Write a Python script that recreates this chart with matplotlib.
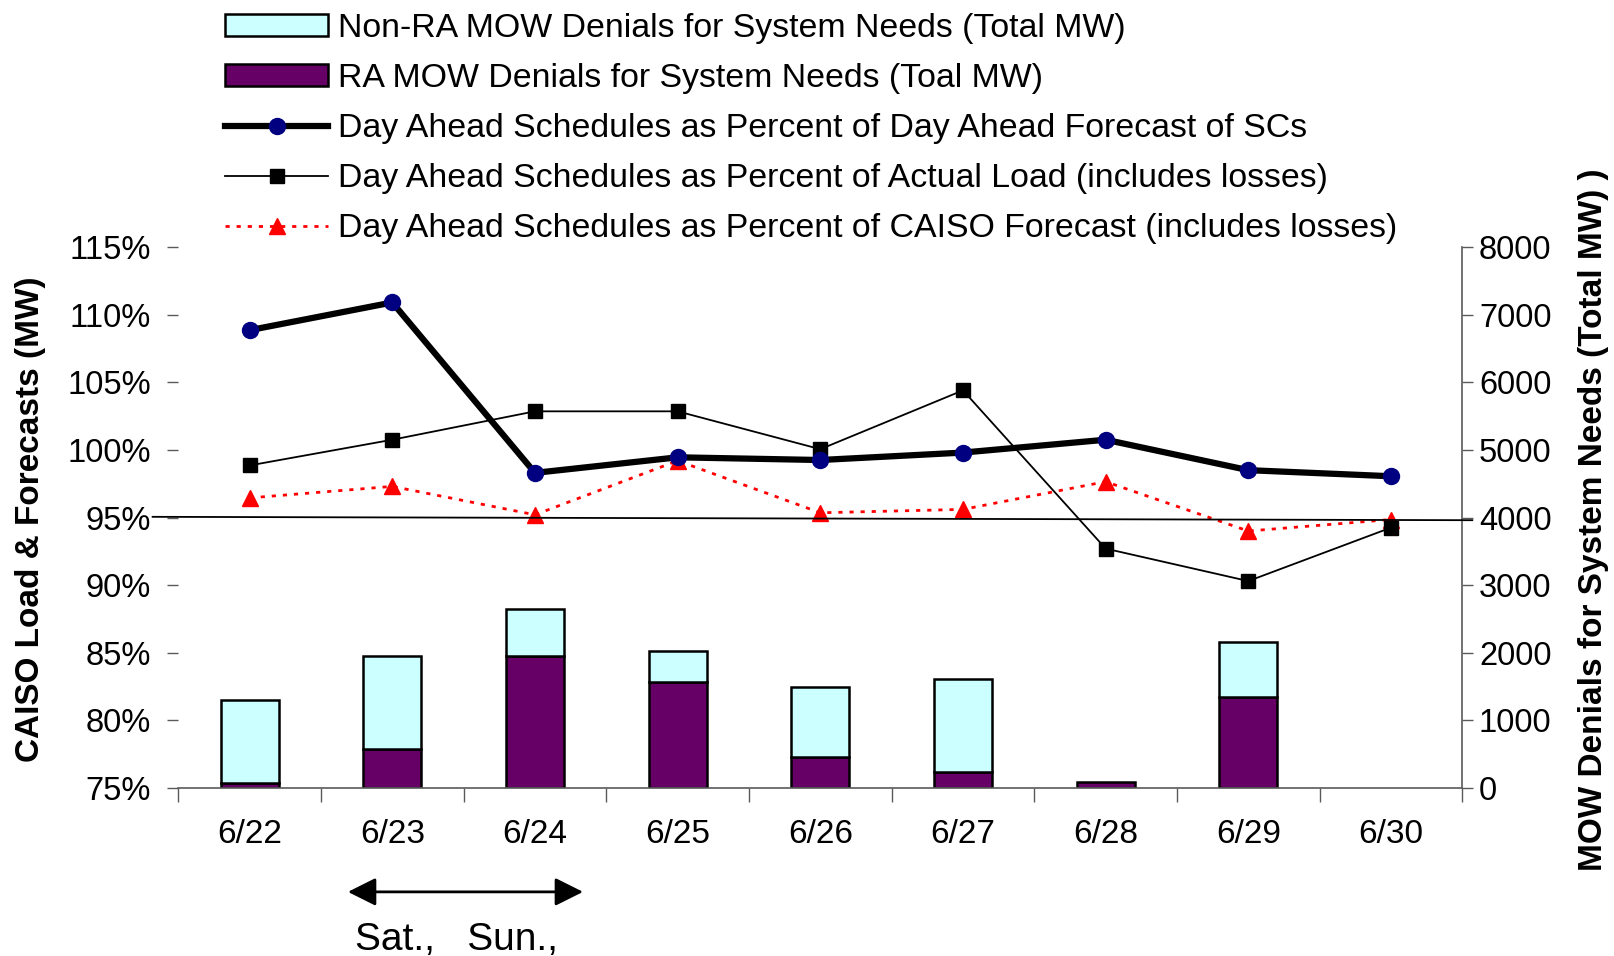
import matplotlib
matplotlib.use('Agg')
import matplotlib.pyplot as plt
import numpy as np
from matplotlib.patches import Patch
from matplotlib.lines import Line2D

plt.rcParams['font.family'] = ['Liberation Sans', 'DejaVu Sans']

# data
dates = ['6/22', '6/23', '6/24', '6/25', '6/26', '6/27', '6/28', '6/29', '6/30']
ra_mw = [75, 580, 1955, 1570, 460, 233, 84, 1342, 0]
non_ra_mw = [1230, 1375, 690, 460, 1030, 1375, 0, 810, 0]
pct_sc_forecast = [108.85, 110.9, 98.3, 99.45, 99.25, 99.8, 100.75, 98.5, 98.05]
pct_actual_load = [98.85, 100.75, 102.85, 102.85, 100.05, 104.4, 92.7, 90.3, 94.25]
pct_caiso_forecast = [96.45, 97.3, 95.2, 99.2, 95.35, 95.6, 97.65, 94.0, 94.85]
ref_pct = [95.05, 94.8]

navy = '#000080'
purple = '#660066'
cyan = '#CCFFFF'
grey = '#5a5a5a'

fig = plt.figure(figsize=(16.15, 9.56), dpi=100)
ax = fig.add_axes([178.3 / 1615, 1 - 788 / 956, 1284 / 1615, 541 / 956])
ax2 = ax.twinx()

x = np.arange(len(dates))

# stacked bars on the right axis
lw_ra = [1.8 if v > 0 else 0 for v in ra_mw]
lw_non = [1.8 if v > 0 else 0 for v in non_ra_mw]
ax2.bar(x, ra_mw, width=0.405, color=purple, edgecolor='black', linewidth=lw_ra)
ax2.bar(x, non_ra_mw, bottom=ra_mw, width=0.405, color=cyan, edgecolor='black', linewidth=lw_non)
ax2.set_ylim(0, 8000)
ax2.set_yticks(np.arange(0, 8001, 1000))
ax2.tick_params(axis='y', direction='out', length=8, width=1, color=grey, labelsize=23.5, pad=4)

# percentage lines on the left axis
ax.plot(x, pct_caiso_forecast, color='red', lw=2, dashes=(1.5, 2.5), marker='^', ms=12,
        mfc='red', mec='red', zorder=3)
ax.plot(x, pct_actual_load, color='black', lw=1.3, marker='s', ms=10.5, zorder=4)
ax.plot(x, pct_sc_forecast, color='black', lw=4.5, marker='o', ms=11.5, mfc=navy, mec=navy, zorder=5)
ax.plot([-0.68, 8.57], ref_pct, color='black', lw=1.3, clip_on=False, zorder=6)

ax.set_zorder(ax2.get_zorder() + 1)
ax.patch.set_visible(False)

ax.set_xlim(-0.5, len(dates) - 0.5)
ax.set_ylim(75, 115)
ax.set_yticks(np.arange(75, 116, 5))
ax.set_yticklabels([f'{v}%' for v in range(75, 116, 5)])
ax.tick_params(axis='y', direction='out', length=8, width=1, color=grey, labelsize=23.5, pad=11.5)
ax.set_xticks(x)
ax.set_xticklabels(dates)
ax.set_xticks(np.arange(-0.5, len(dates), 1), minor=True)
ax.tick_params(axis='x', which='major', length=0, labelsize=24, pad=22)
ax.tick_params(axis='x', which='minor', direction='out', length=10, width=1, color=grey)

for s in ax.spines.values():
    s.set_visible(False)
ax2.spines['top'].set_visible(False)
ax2.spines['left'].set_visible(False)
for s in ['bottom', 'right']:
    ax2.spines[s].set_color(grey)
    ax2.spines[s].set_linewidth(1.2)

# axis titles
fig.text(31 / 1615, 1 - 519 / 956, 'CAISO Load & Forecasts (MW)', rotation=90,
         ha='center', va='center', fontsize=24, fontweight='bold')
fig.text(1594 / 1615, 1 - 520 / 956, 'MOW Denials for System Needs (Total MW) )', rotation=90,
         ha='center', va='center', fontsize=24, fontweight='bold')

# weekend arrow
ax.annotate('', xy=(0.689, -0.192), xytext=(2.337, -0.192),
            xycoords=ax.get_xaxis_transform(), textcoords=ax.get_xaxis_transform(),
            arrowprops=dict(arrowstyle='<|-|>,head_length=0.4,head_width=0.2', color='black',
                            lw=2, mutation_scale=43, shrinkA=0, shrinkB=0),
            annotation_clip=False)
fig.text(355 / 1615, 1 - 950 / 956, 'Sat.,   Sun.,', fontsize=28, ha='left', va='baseline')

# legend
handles = [
    Patch(facecolor=cyan, edgecolor='black', lw=1.8, label='Non-RA MOW Denials for System Needs (Total MW)'),
    Patch(facecolor=purple, edgecolor='black', lw=1.8, label='RA MOW Denials for System Needs (Toal MW)'),
    Line2D([], [], color='black', lw=4.5, marker='o', ms=11.5, mfc=navy, mec=navy,
           label='Day Ahead Schedules as Percent of Day Ahead Forecast of SCs'),
    Line2D([], [], color='black', lw=1.3, marker='s', ms=10.5,
           label='Day Ahead Schedules as Percent of Actual Load (includes losses)'),
    Line2D([], [], color='red', lw=2, dashes=(1.5, 2.5), marker='^', ms=12, mfc='red', mec='red',
           label='Day Ahead Schedules as Percent of CAISO Forecast (includes losses)'),
]
fig.legend(handles=handles, loc='upper left', bbox_to_anchor=(225 / 1615, 1 - 13 / 956),
           frameon=False, fontsize=24.4, handlelength=3.04, handleheight=0.61, handletextpad=0.3,
           labelspacing=0.56, borderpad=0, borderaxespad=0, numpoints=1)

fig.savefig('out.png', dpi=100)
